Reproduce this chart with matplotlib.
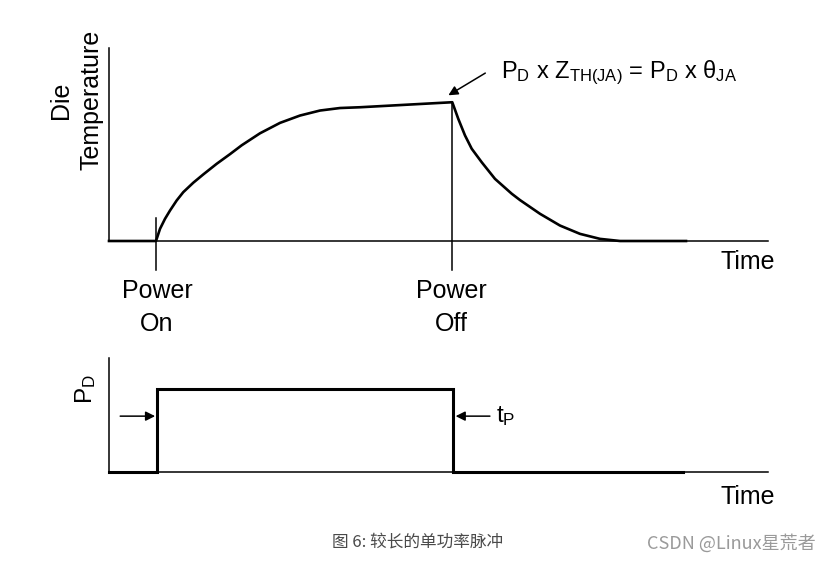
import matplotlib
matplotlib.use("Agg")
from matplotlib import pyplot as plt

plt.rcParams['font.family'] = ['Liberation Sans', 'DejaVu Sans']
plt.rcParams['mathtext.fontset'] = 'custom'
plt.rcParams['mathtext.rm'] = 'Liberation Sans'
plt.rcParams['mathtext.it'] = 'Liberation Sans'

# die temperature trace (time, temperature)
temp_time = [0, 7.13, 7.74, 8.50, 9.26, 10.27, 11.27, 12.79, 14.31, 16.34, 18.36,
             20.14, 22.91, 25.95, 28.98, 32.02, 35.05, 38.09,
             52.09, 53.00, 54.02, 55.04, 56.56, 58.57, 61.11, 62.37, 65.40,
             68.44, 71.47, 74.51, 77.54, 87.56]
temp_vals = [0, 0, 6.3, 11.5, 15.8, 21.0, 25.3, 30.2, 34.5, 40.0, 45.0,
             49.6, 55.8, 61.2, 65.0, 67.6, 68.9, 69.3,
             71.9, 63.3, 54.7, 47.8, 40.8, 32.2, 24.5, 21.2, 14.1,
             8.0, 3.7, 1.1, 0, 0]

# power pulse
pulse_time = [0, 7.3, 7.3, 52.2, 52.2, 87.1]
pulse_vals = [0, 0, 73, 73, 0, 0]

t_on = 7.13
t_off = 52.09
peak_temp = 71.9

fig = plt.figure(figsize=(8.35, 5.63), dpi=100)

# ---- top panel
ax1 = fig.add_axes([109 / 835, 1 - 241 / 563, 659 / 835, 193 / 563])
ax1.plot(temp_time, temp_vals, color='black', lw=1.9, solid_joinstyle='round', clip_on=False)
ax1.set_xlim(0, 100)
ax1.set_ylim(0, 100)
for s in ['top', 'right']:
    ax1.spines[s].set_visible(False)
for s in ['left', 'bottom']:
    ax1.spines[s].set_linewidth(1.1)
ax1.set_xticks([])
ax1.set_yticks([])

ax1.plot([t_on, t_on], [12, -15], color='black', lw=1.1, clip_on=False)
ax1.plot([t_off, t_off], [peak_temp, -15], color='black', lw=1.1, clip_on=False)

ax1.text(-5.0, 73, 'Die\nTemperature', rotation=90, ha='center', va='center',
         fontsize=18, linespacing=1.35, multialignment='center')
ax1.text(7.3, -19.8, 'Power\nOn', ha='center', va='top', fontsize=18, linespacing=1.45)
ax1.text(52.0, -19.8, 'Power\nOff', ha='center', va='top', fontsize=18, linespacing=1.45)
ax1.text(97, -11, 'Time', ha='center', va='center', fontsize=18)

ax1.annotate('', xy=(51.5, 75.5), xytext=(57.1, 87),
             arrowprops=dict(arrowstyle='-|>', color='black', lw=1.1,
                             mutation_scale=14, shrinkA=0, shrinkB=0),
             annotation_clip=False)
ax1.text(59.5, 87, r'P$_\mathrm{D}$ x Z$_\mathrm{TH(JA)}$ = P$_\mathrm{D}$ x θ$_\mathrm{JA}$',
         ha='left', va='center', fontsize=17)

# ---- bottom panel
ax2 = fig.add_axes([109 / 835, 1 - 472 / 563, 659 / 835, 114 / 563])
ax2.plot(pulse_time, pulse_vals, color='black', lw=2.2, solid_joinstyle='miter', clip_on=False)
ax2.set_xlim(0, 100)
ax2.set_ylim(0, 100)
for s in ['top', 'right']:
    ax2.spines[s].set_visible(False)
for s in ['left', 'bottom']:
    ax2.spines[s].set_linewidth(1.1)
ax2.set_xticks([])
ax2.set_yticks([])

ax2.annotate('', xy=(7.0, 49), xytext=(1.7, 49),
             arrowprops=dict(arrowstyle='-|>', color='black', lw=1.1,
                             mutation_scale=14, shrinkA=0, shrinkB=0),
             annotation_clip=False)
ax2.annotate('', xy=(52.6, 49), xytext=(57.8, 49),
             arrowprops=dict(arrowstyle='-|>', color='black', lw=1.1,
                             mutation_scale=14, shrinkA=0, shrinkB=0),
             annotation_clip=False)
ax2.text(58.8, 49, r't$_\mathrm{P}$', ha='left', va='center', fontsize=17.5)
ax2.text(-3.5, 73, r'P$_\mathrm{D}$', rotation=90, ha='center', va='center', fontsize=17.5)
ax2.text(97, -22, 'Time', ha='center', va='center', fontsize=18)

# ---- caption and watermark
fig.text(418 / 835, 1 - 542 / 563, '图 6: 较长的单功率脉冲', ha='center', va='center',
         fontsize=12, color='#4a4a4a', family=['Noto Sans CJK SC', 'DejaVu Sans'])
fig.text(731 / 835, 1 - 543 / 563, 'CSDN @Linux星荒者', ha='center', va='center',
         fontsize=13, color='#9a9a9a', family=['Noto Sans CJK SC', 'DejaVu Sans'])

fig.savefig('out.png', dpi=100)
